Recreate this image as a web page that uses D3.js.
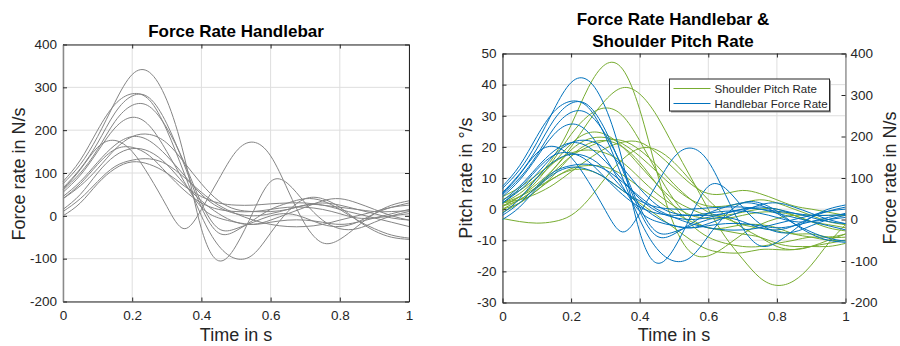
<!DOCTYPE html>
<html>
<head>
<meta charset="utf-8">
<script src="https://cdn.jsdelivr.net/npm/d3@7"></script>
<style>
  body { margin: 0; background: #fff; }
  svg { font-family: "Liberation Sans", Arial, sans-serif; }
</style>
</head>
<body>
<div id="chart"></div>
<script>
// sample times (s)
const time = [0, 0.05, 0.1, 0.15, 0.2, 0.25, 0.3, 0.35, 0.4, 0.45, 0.5,
              0.55, 0.6, 0.65, 0.7, 0.75, 0.8, 0.85, 0.9, 0.95, 1];

// handlebar force rate per trial (N/s)
const force1  = [75, 120, 185, 265, 330, 335, 270, 140, -30, -105, -70, 10, 80, 75, 30, -10, -30, -30, -15, 0, 10];
const force2  = [80, 130, 200, 260, 285, 270, 200, 100, 0, -70, -100, -90, -40, 10, 40, 40, 20, -10, -35, -50, -55];
const force3  = [65, 110, 170, 240, 280, 275, 215, 120, 20, -40, -35, -10, 15, 30, 40, 35, 15, -10, -30, -45, -52];
const force4  = [60, 100, 155, 220, 258, 255, 205, 125, 30, -30, -30, -15, 0, 5, -5, -20, -25, -15, 5, 20, 30];
const force5  = [55, 95, 150, 205, 230, 210, 150, 80, 20, -5, -15, -20, -15, -10, -10, -15, -20, -15, -5, 5, 15];
const force6  = [40, 70, 110, 155, 185, 190, 170, 125, 75, 35, 15, 10, 10, 15, 25, 30, 25, 15, 5, -5, -10];
const force7  = [45, 80, 125, 165, 185, 175, 140, 95, 50, 20, 5, 0, 5, 15, 25, 25, 15, 5, -5, -15, -25];
const force8  = [62, 108, 160, 176, 150, 92, 22, -30, 15, 85, 150, 172, 140, 60, -20, -63, -55, -25, 5, 25, 35];
const force9  = [40, 75, 120, 155, 160, 140, 100, 60, 30, 15, 10, 10, 15, 20, 20, 15, 5, -5, -5, 0, 5];
const force10 = [15, 50, 100, 140, 157, 150, 120, 75, 35, 5, -15, -20, -10, 5, 20, 35, 40, 30, 15, 0, -10];
const force11 = [10, 40, 80, 115, 130, 133, 120, 90, 55, 25, 5, -10, -20, -25, -25, -20, -10, 0, 10, 20, 25];
const force12 = [0, 30, 75, 110, 126, 120, 100, 70, 45, 30, 25, 25, 28, 30, 30, 25, 20, 15, 10, 10, 12];

// shoulder pitch rate per trial (deg/s)
const pitch1  = [2, 5, 10, 17, 27, 39, 46.5, 45, 32, 12, -5, -14, -15, -12, -8, -5, -3, -2, -2, -2, -2];
const pitch2  = [0, 3, 7, 13, 20, 28, 35, 39, 37, 30, 20, 10, 0, -9, -16, -22, -24.5, -23, -18, -11, -5];
const pitch3  = [1, 4, 9, 16, 24, 30, 32.5, 30, 22, 12, 3, -3, -6, -6, -5, -5, -6, -8, -9, -10, -10];
const pitch4  = [3, 6, 10, 15, 21, 24.5, 24, 20, 14, 8, 3, 0, -2, -2, -1, 0, 0, -2, -4, -5, -6];
const pitch5  = [1, 4, 8, 13, 19, 22.5, 23, 21, 17, 12, 7, 3, 1, 1, 2, 3, 2, 0, -2, -4, -5];
const pitch6  = [2, 3, 5, 8, 12, 16, 19.5, 21.5, 21.5, 18, 13, 8, 5, 5, 6, 5, 3, 1, 0, -1, -2];
const pitch7  = [0, 2, 6, 11, 17, 21, 22, 20, 15, 8, 1, -5, -9, -11, -12, -12, -11, -10, -9, -9, -8];
const pitch8  = [-3, -4, -4.5, -4, -2, 3, 10, 16, 19.5, 19, 15, 9, 3, -2, -6, -9, -12, -13, -12, -10, -8];
const pitch9  = [4, 7, 11, 15, 18, 19, 18, 15, 10, 5, 1, -2, -3, -3, -2, -1, -1, -2, -4, -6, -7];
const pitch10 = [2, 4, 7, 10, 13, 14, 13.5, 11, 7, 3, -1, -4, -6, -7, -8, -9, -11, -12, -12, -12, -11];
const pitch11 = [-1, 2, 6, 10, 12.5, 12.5, 10, 6, 2, -2, -6, -10, -13, -14, -14, -13, -13, -13, -12, -11, -10];
const pitch12 = [1, 3, 7, 12, 17, 20, 22, 22, 19, 14, 8, 3, -1, -3, -5, -6, -7, -8, -8, -9, -9];

const forceSeries = [force1, force2, force3, force4, force5, force6, force7, force8, force9, force10, force11, force12];
const pitchSeries = [pitch1, pitch2, pitch3, pitch4, pitch5, pitch6, pitch7, pitch8, pitch9, pitch10, pitch11, pitch12];

const timeTicks = [0, 0.2, 0.4, 0.6, 0.8, 1];
const forceTicks = [-200, -100, 0, 100, 200, 300, 400];
const pitchTicks = [-30, -20, -10, 0, 10, 20, 30, 40, 50];
const legendLabels = ["Shoulder Pitch Rate", "Handlebar Force Rate"];

const axisColor = "#262626";
const gridColor = "#dedede";
const grayLine = "#858585";
const green = "#77AC30";
const blue = "#0072BD";

const svg = d3.select("#chart").append("svg")
    .attr("width", 900)
    .attr("height", 346);

function fmt(d) { return String(d); }

function lineGen(x, y) {
    return d3.line()
        .x((d, i) => x(time[i]))
        .y(d => y(d))
        .curve(d3.curveNatural);
}

// draws grid, box and ticks for one panel
function panel(x, y, yTicks, yRight) {
    const [x0, x1] = x.range();
    const [y0, y1] = y.range();
    const g = svg.append("g");

    g.selectAll(".gx").data(timeTicks).enter().append("line")
        .attr("x1", d => x(d)).attr("x2", d => x(d))
        .attr("y1", y1).attr("y2", y0)
        .attr("stroke", gridColor);
    g.selectAll(".gy").data(yTicks).enter().append("line")
        .attr("x1", x0).attr("x2", x1)
        .attr("y1", d => y(d)).attr("y2", d => y(d))
        .attr("stroke", gridColor);

    const bottom = g.append("g").attr("transform", "translate(0," + y0 + ")")
        .call(d3.axisBottom(x).tickValues(timeTicks).tickFormat(fmt).tickSizeInner(-4).tickSizeOuter(0).tickPadding(9));
    const top = g.append("g").attr("transform", "translate(0," + y1 + ")")
        .call(d3.axisTop(x).tickValues(timeTicks).tickFormat("").tickSizeInner(-4).tickSizeOuter(0));
    const left = g.append("g").attr("transform", "translate(" + x0 + ",0)")
        .call(d3.axisLeft(y).tickValues(yTicks).tickFormat(fmt).tickSizeInner(-4).tickSizeOuter(0).tickPadding(6));
    let right;
    if (yRight) {
        right = g.append("g").attr("transform", "translate(" + x1 + ",0)")
            .call(d3.axisRight(yRight).tickValues(forceTicks).tickFormat(fmt).tickSizeInner(-4).tickSizeOuter(0).tickPadding(5));
    } else {
        right = g.append("g").attr("transform", "translate(" + x1 + ",0)")
            .call(d3.axisRight(y).tickValues(yTicks).tickFormat("").tickSizeInner(-4).tickSizeOuter(0));
    }
    [bottom, top, left, right].forEach(a => {
        a.select(".domain").attr("stroke", axisColor);
        a.selectAll(".tick line").attr("stroke", axisColor);
        a.selectAll("text").attr("fill", axisColor).style("font-size", "13.5px");
    });
    if (yRight) right.select(".domain").attr("stroke", "#6e6e6e");
    else left.select(".domain").attr("stroke", "#8a8a8a").attr("stroke-width", 1.5);
    return g;
}

// ---- left panel
const xL = d3.scaleLinear().domain([0, 1]).range([63, 409]);
const yL = d3.scaleLinear().domain([-200, 400]).range([301.5, 44.5]);

const curvesL = svg.append("g");
panel(xL, yL, forceTicks);
curvesL.selectAll("path").data(forceSeries).enter().append("path")
    .attr("d", lineGen(xL, yL))
    .attr("fill", "none")
    .attr("stroke", grayLine)
    .attr("stroke-width", 1);
svg.node().appendChild(curvesL.node());

svg.append("text").attr("x", 236).attr("y", 37)
    .attr("text-anchor", "middle").style("font-size", "17px").style("font-weight", "bold")
    .attr("fill", "#000").text("Force Rate Handlebar");
svg.append("text").attr("x", 236).attr("y", 341)
    .attr("text-anchor", "middle").style("font-size", "18px")
    .attr("fill", axisColor).text("Time in s");
svg.append("text").attr("transform", "translate(25,174) rotate(-90)")
    .attr("text-anchor", "middle").style("font-size", "18px")
    .attr("fill", axisColor).text("Force rate in N/s");

// ---- right panel
const xR = d3.scaleLinear().domain([0, 1]).range([502.5, 845.5]);
const yP = d3.scaleLinear().domain([-30, 50]).range([302.5, 53.5]);
const yF = d3.scaleLinear().domain([-200, 400]).range([302.5, 53.5]);

const curvesR = svg.append("g");
panel(xR, yP, pitchTicks, yF);
curvesR.selectAll(".pitch").data(pitchSeries).enter().append("path")
    .attr("class", "pitch")
    .attr("d", lineGen(xR, yP))
    .attr("fill", "none")
    .attr("stroke", green)
    .attr("stroke-width", 1);
curvesR.selectAll(".force").data(forceSeries).enter().append("path")
    .attr("class", "force")
    .attr("d", lineGen(xR, yF))
    .attr("fill", "none")
    .attr("stroke", blue)
    .attr("stroke-width", 1);
svg.node().appendChild(curvesR.node());

svg.append("text").attr("x", 673).attr("y", 25)
    .attr("text-anchor", "middle").style("font-size", "17px").style("font-weight", "bold")
    .attr("fill", "#000").text("Force Rate Handlebar &");
svg.append("text").attr("x", 673).attr("y", 47)
    .attr("text-anchor", "middle").style("font-size", "17px").style("font-weight", "bold")
    .attr("fill", "#000").text("Shoulder Pitch Rate");
svg.append("text").attr("x", 674).attr("y", 341)
    .attr("text-anchor", "middle").style("font-size", "18px")
    .attr("fill", axisColor).text("Time in s");
svg.append("text").attr("transform", "translate(472,178) rotate(-90)")
    .attr("text-anchor", "middle").style("font-size", "18px")
    .attr("fill", axisColor).text("Pitch rate in °/s");
svg.append("text").attr("transform", "translate(896,178) rotate(-90)")
    .attr("text-anchor", "middle").style("font-size", "18px")
    .attr("fill", axisColor).text("Force rate in N/s");

// legend
const legend = svg.append("g").attr("transform", "translate(669.5,79)");
legend.append("rect").attr("x", 1.5).attr("y", 1.5).attr("width", 160).attr("height", 32)
    .attr("fill", "#9a9a9a");
legend.append("rect").attr("width", 160).attr("height", 32)
    .attr("fill", "#fff").attr("stroke", axisColor).attr("stroke-width", 1);
legend.selectAll(".item").data(legendLabels).enter().append("g")
    .attr("transform", (d, i) => "translate(0," + (9.5 + i * 15) + ")")
    .each(function (d, i) {
        const gi = d3.select(this);
        gi.append("line").attr("x1", 4).attr("x2", 41).attr("y1", 0).attr("y2", 0)
            .attr("stroke", i === 0 ? green : blue).attr("stroke-width", 1.2);
        gi.append("text").attr("x", 45).attr("y", 4)
            .style("font-size", "11.5px").attr("fill", axisColor).text(d);
    });
</script>
</body>
</html>
